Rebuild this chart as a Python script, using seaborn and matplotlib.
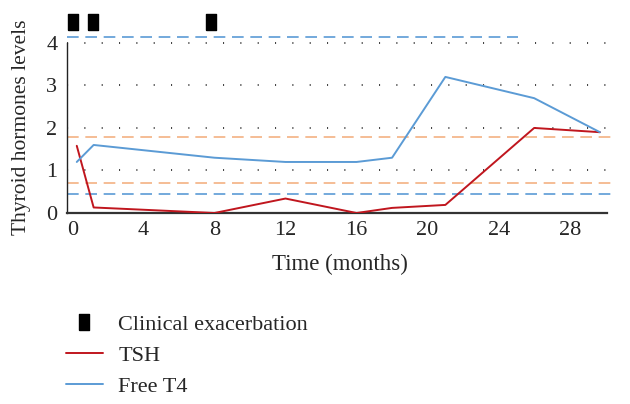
import matplotlib
matplotlib.use("Agg")
import matplotlib.pyplot as plt
from matplotlib.lines import Line2D
import seaborn as sns
import pandas as pd

# ---- data ----
months = [0.25, 1.2, 8, 12, 16, 18, 21, 26, 29.7]
tsh = [1.58, 0.13, 0.0, 0.34, 0.0, 0.12, 0.19, 2.0, 1.9]
free_t4 = [1.2, 1.6, 1.3, 1.2, 1.2, 1.3, 3.2, 2.7, 1.9]
exacerbation_months = [0.05, 1.15, 7.8]
exacerbation_level = [4.5, 4.5, 4.5]
ref_levels = [4.15, 1.79, 0.70, 0.45]
ref_x_end = [25.1, 30.6, 30.6, 30.6]
ref_colors = ["#5b9bd5", "#f4b183", "#f4b183", "#5b9bd5"]
x_ticks = [0, 4, 8, 12, 16, 20, 24, 28]
y_ticks = [0, 1, 2, 3, 4]

sns.set_style("white")
plt.rcParams["font.family"] = ["Liberation Serif", "DejaVu Serif"]

W, H = 630, 404
fig = plt.figure(figsize=(W / 100, H / 100), dpi=100)
ax = fig.add_axes([67 / W, 1 - 213 / H, 540 / W, 202 / H])

df = pd.DataFrame({"month": months + months,
                   "value": tsh + free_t4,
                   "series": ["TSH"] * len(months) + ["Free T4"] * len(months)})

RED = "#c0161e"
BLUE = "#5b9bd5"

# dotted grid
for yv in y_ticks[1:]:
    ax.axhline(yv, color="#333333", lw=1.3, ls=(0, (0.6, 9.0)), zorder=0)

# reference range lines
for lvl, xe, c in zip(ref_levels, ref_x_end, ref_colors):
    ax.plot([-0.3, xe], [lvl, lvl], color=c, lw=1.2, ls=(0, (7, 4)),
            clip_on=False, zorder=1)

sns.lineplot(data=df, x="month", y="value", hue="series",
             palette={"TSH": RED, "Free T4": BLUE}, lw=1.4,
             legend=False, ax=ax, zorder=3, sort=False)

rect = [(-0.3, -0.5), (0.3, -0.5), (0.3, 0.5), (-0.3, 0.5), (-0.3, -0.5)]
ax.plot(exacerbation_months, exacerbation_level, ls="none", marker=rect,
        color="black", markersize=12, clip_on=False, zorder=4)

ax.set_xlim(-0.3, 30.1)
ax.set_ylim(0, 4.75)
ax.set_xticks(x_ticks)
ax.set_yticks(y_ticks)
ax.tick_params(axis="both", labelsize=16, length=0)
ax.tick_params(axis="x", pad=6)
ax.tick_params(axis="y", pad=7)
ax.set_xlabel("")
ax.set_ylabel("")
for s in ["top", "right"]:
    ax.spines[s].set_visible(False)
ax.spines["left"].set_bounds(0, 4)
ax.spines["left"].set_color("#222222")
ax.spines["left"].set_linewidth(1.0)
ax.spines["bottom"].set_color("#333333")
ax.spines["bottom"].set_linewidth(1.6)

fig.text(340 / W, 1 - 264 / H, "Time (months)", ha="center", va="center",
         fontsize=16.5)
fig.text(22 / W, 1 - 127 / H, "Thyroid hormones levels", ha="center",
         va="center", rotation=90, fontsize=15.5)

handles = [Line2D([], [], ls="none", marker=rect, color="black", markersize=12),
           Line2D([], [], color=RED, lw=1.4),
           Line2D([], [], color=BLUE, lw=1.4)]
labels = ["Clinical exacerbation", "TSH", "Free T4"]
fig.legend(handles, labels, loc="upper left",
           bbox_to_anchor=(66 / W, 1 - 314 / H), frameon=False, fontsize=16,
           handlelength=1.65, handletextpad=0.7, labelspacing=0.47,
           borderpad=0, borderaxespad=0)

fig.savefig("out.png", dpi=100)
